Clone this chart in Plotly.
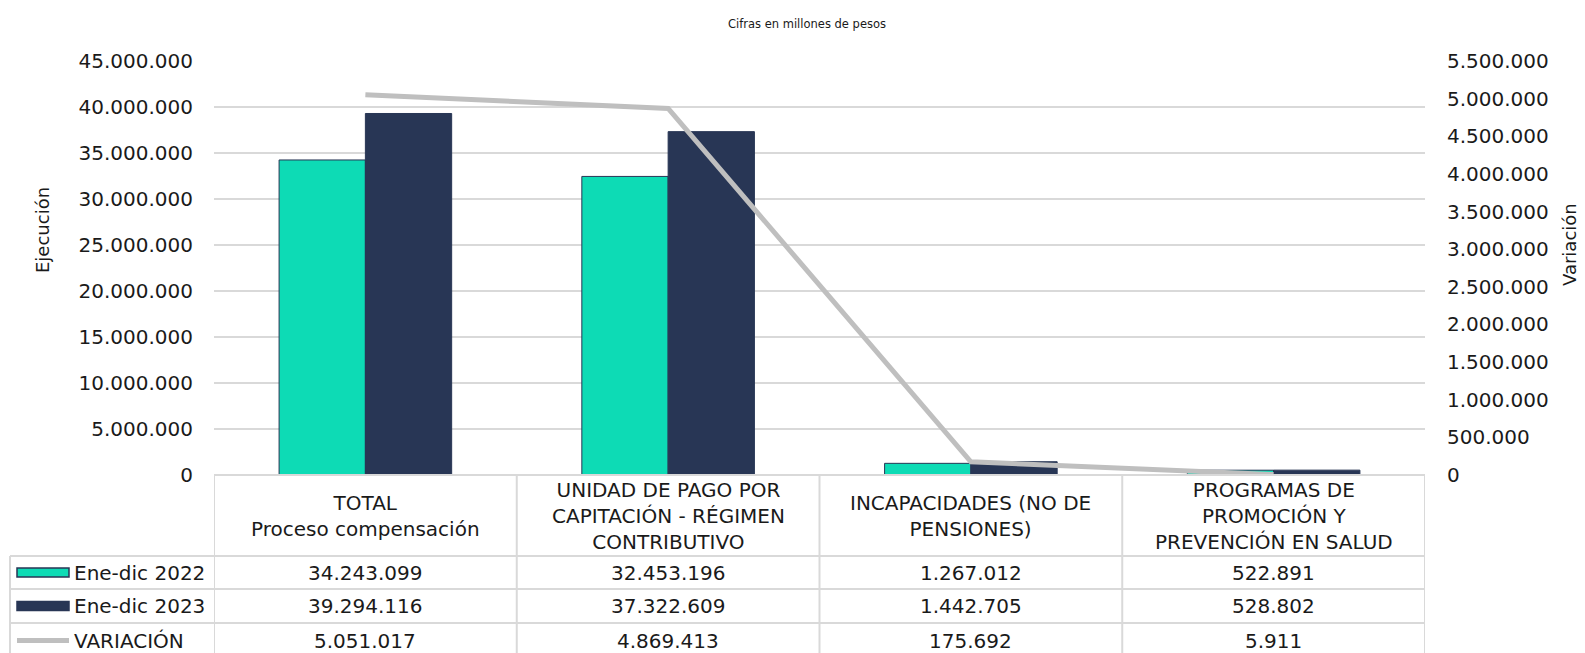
import plotly.graph_objects as go

categories = ["TOTAL<br>Proceso compensación",
              "UNIDAD DE PAGO POR<br>CAPITACIÓN - RÉGIMEN<br>CONTRIBUTIVO",
              "INCAPACIDADES (NO DE<br>PENSIONES)",
              "PROGRAMAS DE<br>PROMOCIÓN Y<br>PREVENCIÓN EN SALUD"]
series_names = ["Ene-dic 2022", "Ene-dic 2023", "VARIACIÓN"]
ejec_2022 = [34243099, 32453196, 1267012, 522891]
ejec_2023 = [39294116, 37322609, 1442705, 528802]
variacion = [5051017, 4869413, 175692, 5911]
left_ticks = list(range(0, 45000001, 5000000))
right_ticks = list(range(0, 5500001, 500000))

TEAL = "#0DDBB5"
NAVY = "#283655"
GRAY = "#BFBFBF"
GRID = "#D9D9D9"
FONT = "DejaVu Sans"
TXT = "#1a1a1a"
FS = 20

W, H = 1585, 653
L, R, T, B = 214, 1425, 61, 475
pw, ph = R - L, B - T

def px_to_paper_x(x):
    return (x - L) / pw

def py_to_paper_y(y):
    return (B - y) / ph

def fmt(v):
    return f"{v:,}".replace(",", ".")

xs = list(range(len(categories)))

fig = go.Figure()
fig.add_trace(go.Bar(x=xs, y=ejec_2022, name=series_names[0], marker=dict(color=TEAL, line=dict(color=NAVY, width=1))))
fig.add_trace(go.Bar(x=xs, y=ejec_2023, name=series_names[1], marker=dict(color=NAVY, line=dict(color=NAVY, width=1))))
fig.add_trace(go.Scatter(x=xs, y=variacion, name=series_names[2], yaxis="y2", mode="lines",
                         line=dict(color=GRAY, width=5), cliponaxis=False))

fig.update_layout(
    width=W, height=H,
    margin=dict(l=L, r=W - R, t=T, b=H - B, pad=0),
    paper_bgcolor="white", plot_bgcolor="white",
    separators=",.",
    barmode="group", bargap=0.43, bargroupgap=0,
    showlegend=False,
    font=dict(family=FONT, size=FS, color=TXT),
    xaxis=dict(range=[-0.5, 3.5], showticklabels=False, showgrid=False, zeroline=False,
               showline=False, ticks=""),
    yaxis=dict(range=[0, 45000000], tickvals=left_ticks, tickformat=",d", showgrid=True,
               gridcolor=GRID, gridwidth=1.5, zeroline=False, showline=False,
               ticklabelstandoff=20, tickfont=dict(size=FS, family=FONT, color=TXT)),
    yaxis2=dict(range=[0, 5500000], tickvals=right_ticks, tickformat=",d", overlaying="y",
                side="right", showgrid=False, zeroline=False, showline=False,
                ticklabelstandoff=21, tickfont=dict(size=FS, family=FONT, color=TXT)),
)

shapes = []
line_style = dict(color=GRID, width=2)
# table geometry in pixels
hdr_bot, r1, r2, r3 = 556, 589, 623, 660
left_col = 10
# horizontal lines
shapes.append(dict(type="line", xref="paper", yref="paper", x0=0, x1=1, y0=0, y1=0, line=line_style))
for yy in [hdr_bot, r1, r2]:
    shapes.append(dict(type="line", xref="paper", yref="paper",
                       x0=px_to_paper_x(left_col), x1=1, y0=py_to_paper_y(yy), y1=py_to_paper_y(yy), line=line_style))
# vertical lines (category boundaries)
for i in range(len(categories) + 1):
    shapes.append(dict(type="line", xref="x", yref="paper", x0=i - 0.5, x1=i - 0.5,
                       y0=0, y1=py_to_paper_y(r3), line=line_style))
shapes.append(dict(type="line", xref="paper", yref="paper", x0=px_to_paper_x(left_col), x1=px_to_paper_x(left_col),
                   y0=py_to_paper_y(hdr_bot), y1=py_to_paper_y(r3), line=line_style))

# legend keys
row_centers = [(hdr_bot + r1) / 2, (r1 + r2) / 2, (r2 + r3) / 2 - 1]
kx0, kx1 = 17, 69
shapes.append(dict(type="rect", xref="paper", yref="paper", x0=px_to_paper_x(kx0), x1=px_to_paper_x(kx1),
                   y0=py_to_paper_y(row_centers[0] - 4.5), y1=py_to_paper_y(row_centers[0] + 4.5),
                   fillcolor=TEAL, line=dict(color=NAVY, width=1.5)))
shapes.append(dict(type="rect", xref="paper", yref="paper", x0=px_to_paper_x(kx0), x1=px_to_paper_x(kx1),
                   y0=py_to_paper_y(row_centers[1] - 4.5), y1=py_to_paper_y(row_centers[1] + 4.5),
                   fillcolor=NAVY, line=dict(color=NAVY, width=1.5)))
shapes.append(dict(type="line", xref="paper", yref="paper", x0=px_to_paper_x(kx0), x1=px_to_paper_x(kx1),
                   y0=py_to_paper_y(row_centers[2]), y1=py_to_paper_y(row_centers[2]),
                   line=dict(color=GRAY, width=5)))

annotations = []
# header labels
for i, c in enumerate(categories):
    annotations.append(dict(x=i, y=py_to_paper_y((B + hdr_bot) / 2), xref="x", yref="paper", text=c,
                            showarrow=False, xanchor="center", yanchor="middle",
                            font=dict(size=FS, family=FONT, color=TXT)))
# row labels and values
for r, (name, vals) in enumerate(zip(series_names, [ejec_2022, ejec_2023, variacion])):
    annotations.append(dict(x=px_to_paper_x(72), y=py_to_paper_y(row_centers[r]), xref="paper", yref="paper",
                            text=name, showarrow=False, xanchor="left", yanchor="middle",
                            font=dict(size=FS, family=FONT, color=TXT)))
    for i, v in enumerate(vals):
        annotations.append(dict(x=i, y=py_to_paper_y(row_centers[r]), xref="x", yref="paper", text=fmt(v),
                                showarrow=False, xanchor="center", yanchor="middle",
                                font=dict(size=FS, family=FONT, color=TXT)))
# titles
annotations.append(dict(x=px_to_paper_x(807), y=py_to_paper_y(24), xref="paper", yref="paper",
                        text="Cifras en millones de pesos", showarrow=False, xanchor="center", yanchor="middle",
                        font=dict(size=11.5, family=FONT, color=TXT)))
annotations.append(dict(x=px_to_paper_x(42), y=py_to_paper_y(230), xref="paper", yref="paper",
                        text="Ejecución", showarrow=False, textangle=-90, xanchor="center", yanchor="middle",
                        font=dict(size=18, family=FONT, color=TXT)))
annotations.append(dict(x=px_to_paper_x(1569), y=py_to_paper_y(245), xref="paper", yref="paper",
                        text="Variación", showarrow=False, textangle=-90, xanchor="center", yanchor="middle",
                        font=dict(size=18, family=FONT, color=TXT)))

fig.update_layout(shapes=shapes, annotations=annotations)
fig.write_html("out.html", config={"displayModeBar": False},
               post_script="document.body.style.margin='0';document.body.style.overflow='hidden';")
